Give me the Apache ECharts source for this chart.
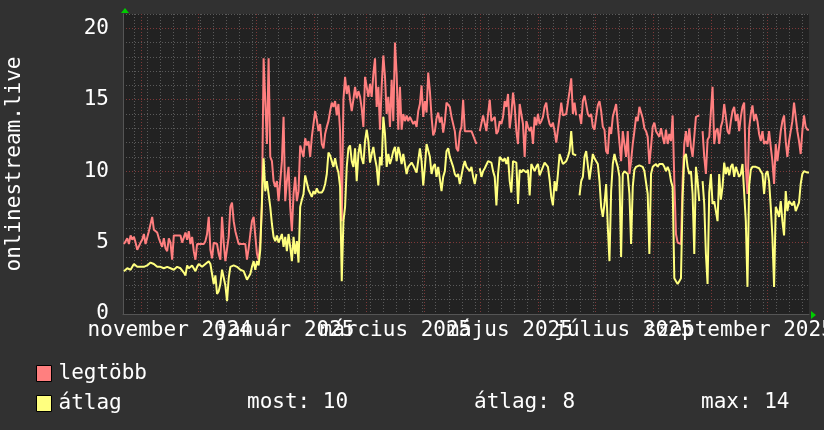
<!DOCTYPE html>
<html><head><meta charset="utf-8">
<script src="https://cdn.jsdelivr.net/npm/echarts@6/dist/echarts.min.js"></script>
<style>html,body{margin:0;padding:0;background:#313131}#c{width:824px;height:430px}</style>
</head><body><div id="c"></div>
<script>
const seriesNames = ['legtöbb', 'átlag'];

// legtöbb (max) – sampled evenly across the year
const maxVals = [
4.9,5.1,5.3,4.9,5.5,5.2,5.4,5.0,4.5,4.4,5.0,5.2,5.6,4.9,5.0,5.8,5.8,6.8,5.9,6.0,
5.7,5.3,5.2,4.7,5.3,4.6,4.4,5.3,5.0,3.8,5.5,5.5,5.5,5.5,5.5,5.0,4.9,5.7,5.2,5.8,
4.9,5.4,4.4,3.8,4.9,4.9,4.9,4.9,4.9,5.1,5.6,6.8,4.5,3.9,5.0,4.9,4.9,4.2,3.8,
6.8,5.0,3.7,3.7,5.4,7.5,7.8,6.5,5.8,5.8,4.9,4.9,4.9,4.9,4.9,3.8,4.6,5.6,6.5,6.8,
5.5,4.2,3.8,5.1,7.5,17.9,17.9,11.9,17.9,11.0,10.7,9.3,8.9,9.3,7.9,7.9,10.7,13.8,7.9,9.3,
10.3,7.5,5.8,8.4,9.6,7.9,8.6,11.8,11.4,11.0,12.3,11.8,12.1,11.0,12.4,12.4,14.2,13.6,12.8,
13.3,11.9,11.6,12.6,13.1,13.5,14.2,14.8,14.5,14.9,13.9,14.7,12.8,6.5,15.0,16.6,15.4,16.0,15.0,14.2,
15.0,15.9,15.1,15.6,15.2,14.4,13.1,16.6,15.9,15.2,16.1,15.2,16.8,17.9,14.5,15.9,12.9,15.9,18.1,16.6,
14.0,15.2,13.1,16.4,13.5,19.0,16.8,12.9,15.9,12.9,14.0,13.5,13.9,13.5,13.8,13.9,13.3,13.5,13.1,
14.2,14.7,16.0,13.8,14.9,14.1,16.9,15.6,13.8,12.5,12.8,13.7,14.1,13.4,13.8,12.7,13.5,14.8,14.7,14.5,
13.8,13.8,12.8,11.6,11.4,12.7,13.1,15.0,12.8,12.9,12.8,12.9,12.8,12.5,12.4,11.9,null,12.8,12.8,13.9,
13.8,12.8,14.0,15.0,13.5,13.6,13.8,12.6,12.8,13.5,13.3,13.8,14.9,14.5,15.4,13.0,14.0,15.5,14.5,
12.8,11.9,14.7,14.0,13.3,11.0,13.5,13.1,12.8,13.1,11.9,13.8,13.2,14.0,13.3,13.5,13.8,14.5,14.8,13.8,
13.3,13.1,13.4,12.8,12.0,12.1,13.8,14.8,13.9,13.8,14.0,14.8,15.6,16.5,14.0,14.8,13.9,null,14.0,13.3,
14.9,15.3,15.2,14.0,13.8,14.0,13.1,12.9,13.8,14.6,14.9,14.2,13.1,12.9,11.4,11.2,13.1,12.6,13.8,
13.9,14.7,13.3,13.4,10.7,12.8,12.8,11.0,12.8,9.8,10.7,11.9,12.8,13.8,13.5,14.5,14.5,13.7,13.0,12.8,
12.4,10.5,11.7,13.1,13.4,12.8,12.8,12.4,13.0,12.4,11.9,12.9,11.9,12.6,12.1,13.9,9.3,5.6,5.0,4.9,
4.9,9.3,11.9,12.8,11.7,13.0,11.7,11.0,12.4,13.8,13.9,13.9,null,12.8,11.0,9.8,12.2,12.4,12.4,
15.9,11.9,12.8,13.0,11.9,13.1,13.5,14.7,13.8,12.8,12.6,13.5,14.2,14.5,13.5,14.0,12.8,13.8,14.5,14.8,
10.3,8.4,13.0,14.0,14.6,13.5,14.0,13.5,12.6,12.1,12.8,11.9,12.1,11.9,12.8,11.7,10.7,9.1,11.9,10.7,
11.7,12.8,13.5,13.9,12.1,11.0,12.1,12.8,13.5,14.8,13.8,12.8,12.1,11.2,12.8,13.9,13.1,12.9,12.9
];

// átlag (average)
const avgVals = [
3.0,3.0,3.2,3.3,3.1,3.2,3.5,3.6,3.3,3.2,3.3,3.3,3.3,3.3,3.4,3.5,3.6,3.7,3.5,3.4,
3.3,3.2,3.3,3.3,3.2,3.2,3.3,3.3,3.2,3.1,3.1,3.2,3.3,3.4,3.2,3.1,2.9,2.7,3.4,3.2,
3.1,3.4,3.5,3.0,3.3,3.5,3.4,3.3,3.3,3.5,3.6,3.7,3.5,2.8,2.1,2.7,1.4,1.6,2.1,
3.1,3.1,2.0,0.9,2.5,3.3,3.4,3.4,3.3,3.3,3.2,3.1,3.0,3.0,2.7,2.4,2.6,2.8,3.3,3.7,
3.1,3.7,3.4,4.5,7.9,10.9,8.6,9.3,9.4,7.5,6.3,5.4,5.1,5.5,5.0,4.9,5.6,4.7,5.4,4.4,
5.6,4.7,3.7,5.4,4.2,5.1,3.6,7.5,8.0,8.4,9.7,9.2,8.7,8.6,8.2,8.6,8.4,8.8,8.5,
8.6,8.5,8.7,9.1,9.8,11.3,11.1,10.7,10.3,10.9,10.3,9.9,8.9,2.3,6.5,7.5,10.3,11.6,11.8,10.7,
10.3,11.6,9.3,11.2,11.9,10.9,10.5,12.1,12.9,12.1,10.6,11.2,11.7,10.9,10.3,9.0,11.0,10.4,13.8,12.6,
10.3,11.2,10.5,10.9,11.4,11.7,10.7,11.7,11.2,10.5,11.2,10.5,9.8,10.3,10.3,10.6,10.4,10.3,9.9,
9.8,11.6,10.7,9.0,10.3,11.9,11.9,11.0,9.8,10.3,10.5,9.6,10.3,10.3,8.6,9.6,10.0,11.4,11.6,11.0,
10.9,10.3,9.8,9.6,9.8,9.1,9.1,10.3,10.7,10.3,10.4,10.0,10.3,9.6,9.1,9.8,null,10.2,9.6,10.0,
10.2,10.3,10.7,10.6,10.6,10.0,9.6,7.6,9.8,11.0,11.0,10.7,10.9,10.5,11.0,9.3,8.5,10.7,10.6,
10.6,7.7,10.1,9.9,10.1,10.0,9.9,10.1,8.3,10.5,10.4,10.0,10.3,10.5,9.7,9.8,10.3,10.6,10.5,10.3,
9.4,8.2,7.6,9.3,8.6,9.8,11.2,11.3,10.5,10.6,10.7,11.0,11.4,12.8,11.2,11.2,11.1,null,8.3,9.3,
9.6,11.0,11.4,11.3,9.4,10.3,11.2,10.9,10.7,10.5,9.3,7.5,6.8,7.7,9.1,6.1,3.7,8.6,10.5,
11.2,10.7,10.3,9.6,4.0,9.8,10.0,10.0,9.8,8.4,4.9,8.9,10.1,10.3,10.2,10.4,10.3,10.3,10.0,10.0,
8.4,4.2,9.8,10.3,10.3,10.5,10.3,10.5,10.6,10.5,10.3,10.0,10.3,10.0,9.3,8.9,2.5,2.3,2.1,2.3,
2.5,8.2,11.0,11.2,10.3,9.8,10.0,8.4,4.2,10.3,9.3,7.9,null,9.3,7.7,4.2,2.1,8.5,9.8,
7.7,7.9,7.8,6.5,9.8,8.0,8.9,10.6,9.8,10.3,9.7,10.3,10.5,9.6,10.3,10.3,9.6,9.8,10.5,10.5,
6.5,1.9,9.0,10.1,10.3,10.3,10.3,10.3,10.2,10.0,9.8,8.4,9.8,10.0,9.3,7.5,5.4,1.9,7.5,7.2,
6.8,7.9,6.5,5.5,8.6,7.2,7.9,7.8,7.6,7.9,7.2,7.1,7.8,9.1,9.8,10.0,10.0,9.9,9.9
];

const yTickValues = [0, 5, 10, 15, 20];
const labelMonths = [[2024, 10], [2025, 0], [2025, 2], [2025, 4], [2025, 6], [2025, 8]];
const monthLabels = ['november 2024', 'január 2025', 'március 2025', 'május 2025', 'július 2025', 'szeptember 2025'];
const statLabels = ['most: 10', 'átlag: 8', 'max: 14'];

const DAY = 86400000;
const tMin = Date.UTC(2024, 9, 22, 0);
const tMax = Date.UTC(2025, 9, 23, 10);
const t0 = tMin + 0.5 * DAY;
const step = (tMax - t0) / (maxVals.length - 1);
const times = maxVals.map((_, i) => t0 + i * step);
const maxData = maxVals.map((v, i) => [times[i], v]);
const avgData = avgVals.map((v, i) => [times[i], v]);

const majorTicks = [];
for (let k = 0; k < 12; k++) majorTicks.push(Date.UTC(2024, 10 + k, 1));
const minorTicks = [];
for (let t = Date.UTC(2024, 9, 28); t < tMax; t += 7 * DAY) minorTicks.push(t);
const labelTimes = labelMonths.map(([y, m]) => {
  const a = Date.UTC(y, m, 1), b = Date.UTC(y, m + 1, 1);
  return a + (b - a) / 2;
});
// labels overlap each other in the original, so split them over two axes
const labelSetA = labelTimes.filter((_, i) => i % 2 === 0);
const labelSetB = labelTimes.filter((_, i) => i % 2 === 1);

const FONT = 'DejaVu Sans Mono';
const chart = echarts.init(document.getElementById('c'), null, {renderer: 'canvas'});
const minorLine = {show: true, lineStyle: {color: '#5a5a5a', width: 1, type: [1, 2]}};
const majorLine = {show: true, lineStyle: {color: '#7e3838', width: 1, type: [1, 2]}};
const monthFormatter = v => { const i = labelTimes.indexOf(v); return i >= 0 ? monthLabels[i] : ''; };
const labelAxis = (vals) => ({
  type: 'value', min: tMin, max: tMax, position: 'bottom',
  axisLine: {show: false, onZero: false},
  axisTick: {show: false, customValues: vals},
  axisLabel: {show: true, customValues: vals, color: '#ffffff', fontSize: 21, fontFamily: FONT, margin: 6,
    showMinLabel: true, showMaxLabel: true, hideOverlap: false, formatter: monthFormatter},
  splitLine: {show: false}
});

chart.setOption({
  animation: false,
  backgroundColor: '#313131',
  textStyle: {fontFamily: FONT},
  grid: {left: 123, right: 15, top: 14, bottom: 116, show: true, backgroundColor: '#222222', borderWidth: 0,
         containLabel: false, outerBoundsMode: 'none'},
  legend: {
    data: seriesNames, orient: 'vertical', left: 31, top: 358,
    itemWidth: 15, itemHeight: 16, itemGap: 9, icon: 'rect',
    itemStyle: {borderColor: '#000', borderWidth: 1},
    textStyle: {color: '#ffffff', fontSize: 21, fontFamily: FONT, lineHeight: 16, padding: [0, 0, 0, 2]},
    selectedMode: false
  },
  xAxis: [
    {type: 'value', min: tMin, max: tMax, position: 'bottom',
     axisLine: {show: true, onZero: false, lineStyle: {color: '#555'}},
     axisTick: {show: false, customValues: majorTicks},
     axisLabel: {show: false, customValues: majorTicks}, splitLine: majorLine, z: 2},
    {type: 'value', min: tMin, max: tMax, position: 'bottom',
     axisLine: {show: false, onZero: false},
     axisTick: {show: false, customValues: minorTicks},
     axisLabel: {show: false, customValues: minorTicks}, splitLine: minorLine, z: 1},
    labelAxis(labelSetA),
    labelAxis(labelSetB)
  ],
  yAxis: [
    {type: 'value', min: 0, max: 21, position: 'left',
     name: 'onlinestream.live', nameLocation: 'middle', nameRotate: 90, nameGap: 98,
     nameTextStyle: {color: '#ffffff', fontSize: 21, fontFamily: FONT},
     axisLine: {show: true, lineStyle: {color: '#555'}},
     axisTick: {show: false, customValues: yTickValues},
     axisLabel: {customValues: yTickValues, color: '#ffffff', fontSize: 21, fontFamily: FONT, margin: 14},
     splitLine: majorLine, z: 2},
    {type: 'value', min: 0, max: 21, interval: 1, position: 'left',
     axisLine: {show: false}, axisTick: {show: false}, axisLabel: {show: false},
     splitLine: minorLine, z: 1}
  ],
  series: [
    {name: seriesNames[0], type: 'line', data: maxData, showSymbol: false, connectNulls: false,
     color: '#ff7f7f', lineStyle: {color: '#ff7f7f', width: 2}, itemStyle: {color: '#ff7f7f'}, z: 3},
    {name: seriesNames[1], type: 'line', data: avgData, showSymbol: false, connectNulls: false,
     color: '#ffff7f', lineStyle: {color: '#ffff7f', width: 2}, itemStyle: {color: '#ffff7f'}, z: 4}
  ],
  graphic: [
    {type: 'polygon', shape: {points: [[121, 13], [129, 13], [125, 8]]}, style: {fill: '#00cc00'}},
    {type: 'polygon', shape: {points: [[811, 311], [811, 319], [816, 315]]}, style: {fill: '#00cc00'}},
    {type: 'text', left: 247, top: 392, style: {text: statLabels[0], fill: '#ffffff', font: '21px "DejaVu Sans Mono"'}},
    {type: 'text', left: 474, top: 392, style: {text: statLabels[1], fill: '#ffffff', font: '21px "DejaVu Sans Mono"'}},
    {type: 'text', left: 701, top: 392, style: {text: statLabels[2], fill: '#ffffff', font: '21px "DejaVu Sans Mono"'}}
  ]
});
</script></body></html>
